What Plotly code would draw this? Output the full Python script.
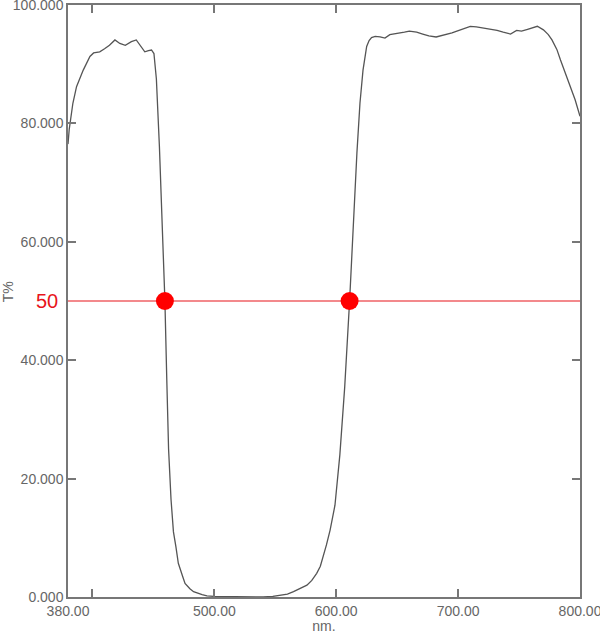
import plotly.graph_objects as go

# Espectro de transmitância (nm, T%)
nm = [380, 381, 384, 387, 392.5, 398, 401, 406, 410, 414, 418.5, 422.5, 427, 432, 436,
      440, 443, 446, 448.5, 450.5, 452.5, 455, 457, 459.5, 461, 462.5, 464.5, 466.5,
      468.5, 470.5, 474, 476, 480, 483, 490, 494, 500, 510, 520, 530, 540, 548, 554,
      560, 565, 570, 576, 580, 584, 587, 589.5, 592, 595, 599, 603, 607, 611, 614, 617,
      619.5, 622, 625, 627, 629, 632, 636, 640, 644, 648, 652, 656, 660, 666, 671, 676,
      682, 686, 691, 695, 699, 703, 706, 710, 715, 721, 726, 732, 737, 743, 748, 752,
      757, 761, 765, 770, 774, 777, 781, 784, 788, 792, 796, 800]
trans = [76.5, 79, 83.4, 86.2, 89, 91.3, 91.9, 92.1, 92.6, 93.2, 94.1, 93.5, 93.2, 93.8,
         94.1, 93, 92.1, 92.3, 92.4, 91.8, 87.5, 76, 64, 50, 37, 25, 16.5, 11, 8.5, 5.7,
         3.5, 2.3, 1.4, 0.9, 0.4, 0.2, 0.1, 0.05, 0, 0, 0, 0.1, 0.3, 0.5, 0.9, 1.4, 2.0,
         2.8, 4, 5.2, 6.8, 8.8, 11.3, 15.5, 24, 35.5, 50, 63.5, 75, 83.4, 89, 93, 94,
         94.5, 94.7, 94.6, 94.4, 95, 95.1, 95.3, 95.4, 95.6, 95.4, 95.1, 94.8, 94.6, 94.8,
         95.1, 95.3, 95.6, 95.9, 96.2, 96.4, 96.3, 96.1, 95.9, 95.7, 95.4, 95.1, 95.7,
         95.6, 95.9, 96.1, 96.4, 95.8, 95, 94.1, 92.5, 90.7, 88.5, 86.2, 84, 81.2]

# Nível de 50% e pontos de corte
nivel = 50
corte_nm = [459.5, 611]

# Rótulos dos eixos
x_ticks = [380, 500, 600, 700, 800]
x_labels = ["380.00", "500.00", "600.00", "700.00", "800.00"]
x_minor = [400]
y_ticks = [0, 20, 40, 60, 80, 100]
y_labels = ["0.000", "20.000", "40.000", "60.000", "80.000", "100.000"]

cinza = "#666666"
eixo = "#777777"
fonte = "Liberation Sans, Arial, sans-serif"

fig = go.Figure()

fig.add_trace(go.Scatter(x=nm, y=trans, mode="lines",
                         line=dict(color="#555555", width=1.3), showlegend=False))

fig.add_trace(go.Scatter(x=[nm[0], nm[-1]], y=[nivel, nivel], mode="lines",
                         line=dict(color="#e8141b", width=1.2), showlegend=False))

fig.add_trace(go.Scatter(x=corte_nm, y=[nivel] * len(corte_nm), mode="markers",
                         marker=dict(color="#ff0000", size=18), showlegend=False))

# "50" em vermelho à esquerda
fig.add_annotation(x=0, xref="paper", y=nivel, yref="y", text=str(nivel),
                   showarrow=False, xanchor="right", xshift=-8,
                   font=dict(color="#e8141b", size=20, family=fonte))

# Título do eixo Y
fig.add_annotation(x=-0.117, xref="paper", y=nivel + 1.5, yref="y", text="T%",
                   showarrow=False, textangle=-90, xanchor="center",
                   font=dict(color=cinza, size=14, family=fonte))

fig.update_layout(
    width=600, height=634,
    margin=dict(l=68, r=20, t=5, b=37),
    plot_bgcolor="white", paper_bgcolor="white",
    font=dict(family=fonte, color=cinza, size=14),
    xaxis=dict(range=[380, 800], tickvals=x_ticks, ticktext=x_labels,
               ticks="inside", ticklen=8, tickwidth=1.5, tickcolor=eixo,
               minor=dict(tickvals=x_minor, ticks="inside", ticklen=8,
                          tickwidth=1.5, tickcolor=eixo),
               showline=True, linecolor=eixo, linewidth=1.5, mirror="ticks",
               showgrid=False, zeroline=False, ticklabeloverflow="allow",
               automargin=False,
               title=dict(text="nm.", standoff=0, font=dict(size=14))),
    yaxis=dict(range=[0, 100], tickvals=y_ticks, ticktext=y_labels,
               ticks="inside", ticklen=8, tickwidth=1.5, tickcolor=eixo,
               showline=True, linecolor=eixo, linewidth=1.5, mirror="ticks",
               showgrid=False, zeroline=False, ticklabeloverflow="allow",
               automargin=False),
)

fig.write_html("out.html", config={"displayModeBar": False},
               post_script="document.body.style.margin='0px';")
